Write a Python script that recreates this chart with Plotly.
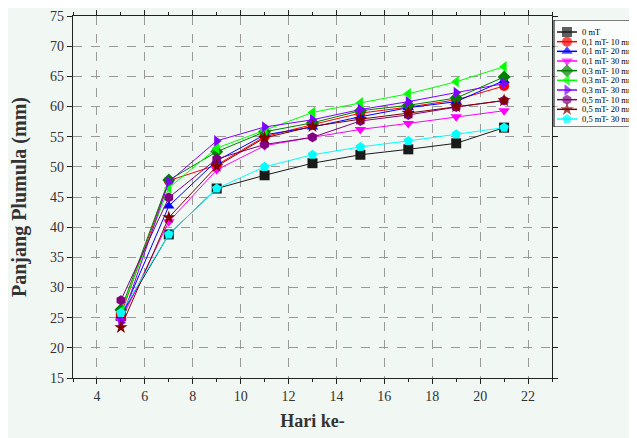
import plotly.graph_objects as go

days = [5, 7, 9, 11, 13, 15, 17, 19, 21]

series_names = ["0 mT", "0,1 mT- 10 mnt", "0,1 mT- 20 mnt", "0,1 mT- 30 mnt",
                "0,3 mT- 10 mnt", "0,3 mT- 20 mnt", "0,3 mT- 30 mnt",
                "0,5 mT- 10 mnt", "0,5 mT- 20 mnt", "0,5 mT- 30 mnt"]

v_0mT     = [25.3, 38.8, 46.4, 48.6, 50.6, 52.0, 52.9, 53.9, 56.5]
v_01_10   = [25.5, 47.7, 50.3, 55.0, 57.0, 58.9, 59.9, 61.1, 63.4]
v_01_20   = [25.0, 43.5, 51.0, 55.3, 56.6, 58.3, 59.8, 60.8, 64.3]
v_01_30   = [24.5, 40.9, 49.5, 53.5, 54.9, 56.2, 57.2, 58.3, 59.3]
v_03_10   = [26.3, 47.8, 52.5, 55.8, 57.3, 59.3, 60.2, 61.4, 64.9]
v_03_20   = [26.0, 46.5, 53.1, 56.1, 59.0, 60.6, 62.1, 64.1, 66.6]
v_03_30   = [24.2, 47.5, 54.3, 56.6, 57.8, 59.5, 60.8, 62.3, 63.8]
v_05_10   = [27.9, 44.9, 51.3, 53.7, 54.9, 57.6, 58.6, 59.9, 61.0]
v_05_20   = [23.4, 41.6, 50.1, 54.8, 56.7, 57.9, 58.9, 60.0, 61.0]
v_05_30   = [25.8, 38.8, 46.4, 50.0, 52.0, 53.3, 54.3, 55.4, 56.5]

values = [v_0mT, v_01_10, v_01_20, v_01_30, v_03_10, v_03_20, v_03_30,
          v_05_10, v_05_20, v_05_30]

colors = ["#1a1a1a", "#ff0000", "#0000ff", "#ff00ff", "#008000", "#00ff00",
          "#8000ff", "#800080", "#800000", "#00ffff"]
symbols = ["square", "circle", "triangle-up", "triangle-down", "diamond",
           "triangle-left", "triangle-right", "hexagon", "star", "pentagon"]

x_ticks = [4, 6, 8, 10, 12, 14, 16, 18, 20, 22]
y_ticks = [15, 20, 25, 30, 35, 40, 45, 50, 55, 60, 65, 70, 75]

# page body has an 8px default margin, so the figure is sized to fit the window
W, H = 629, 430
ML, MT, MB = 65, 8, 60
plot_right = 544
legend_left = 545
legend_top, legend_bottom = 12, 119

serif = "Liberation Serif, Times New Roman, serif"
bg = "#f1f7f3"

fig = go.Figure()
for name, vals, c, s in zip(series_names, values, colors, symbols):
    fig.add_trace(go.Scatter(
        x=days, y=vals, mode="lines+markers", name=name,
        line=dict(color=c, width=1),
        marker=dict(color=c, symbol=s, size=10, line=dict(width=0)),
        showlegend=False, xaxis="x", yaxis="y"))

# compact legend drawn on an overlay axis measured in pixels
pw = W - ML
ph = H - MT - MB
row0 = legend_top + 12
row_gap = (legend_bottom - legend_top - 20) / 9
for i, (name, c, s) in enumerate(zip(series_names, colors, symbols)):
    yy = row0 + i * row_gap
    fig.add_trace(go.Scatter(
        x=[legend_left + 4, legend_left + 14, legend_left + 24], y=[yy, yy, yy],
        mode="lines+markers",
        line=dict(color=c, width=1.5),
        marker=dict(color=c, symbol=s, size=[0, 10, 0], line=dict(width=0)),
        showlegend=False, hoverinfo="skip", xaxis="x2", yaxis="y2"))
    fig.add_annotation(x=legend_left + 27, y=yy, xref="x2", yref="y2", text=name,
                       showarrow=False, xanchor="left", yanchor="middle",
                       font=dict(family=serif, size=8.5, color="#000"))

fig.add_shape(type="rect", xref="x2", yref="y2", x0=legend_left + 1, x1=W + 60,
              y0=legend_top, y1=legend_bottom,
              line=dict(color="#000", width=1), fillcolor="rgba(255,255,255,0.7)",
              layer="below")

axis_common = dict(showline=True, linecolor="#222", linewidth=1.2, mirror="allticks",
                   ticks="outside", ticklen=5, tickcolor="#222",
                   showgrid=True, gridcolor="#9a9a9a", griddash="dash", gridwidth=1,
                   zeroline=False,
                   tickfont=dict(family=serif, size=14, color="#333"))

fig.update_layout(
    width=W, height=H,
    margin=dict(l=ML, r=0, t=MT, b=MB, autoexpand=False),
    paper_bgcolor=bg, plot_bgcolor=bg,
    xaxis=dict(domain=[0, (plot_right - ML) / pw], range=[3, 23],
               tickvals=x_ticks,
               minor=dict(dtick=1, tick0=3, ticks="outside", ticklen=3, tickcolor="#222",
                          showgrid=False),
               title=dict(text="<b>Hari ke-</b>", standoff=11,
                          font=dict(family=serif, size=18, color="#333")),
               **axis_common),
    yaxis=dict(domain=[0, 1], range=[15, 75], tickvals=y_ticks,
               title=dict(text="<b>Panjang Plumula (mm)</b>", standoff=18,
                          font=dict(family=serif, size=20, color="#333")),
               **axis_common),
    xaxis2=dict(domain=[(legend_left - ML) / pw, 1], range=[legend_left, W],
                visible=False, fixedrange=True, anchor="y2"),
    yaxis2=dict(domain=[(H - MB - legend_bottom) / ph, (H - MB - legend_top) / ph],
                range=[legend_bottom, legend_top], visible=False, fixedrange=True,
                anchor="x2"),
    showlegend=False,
)

fig.write_html("out.html")
